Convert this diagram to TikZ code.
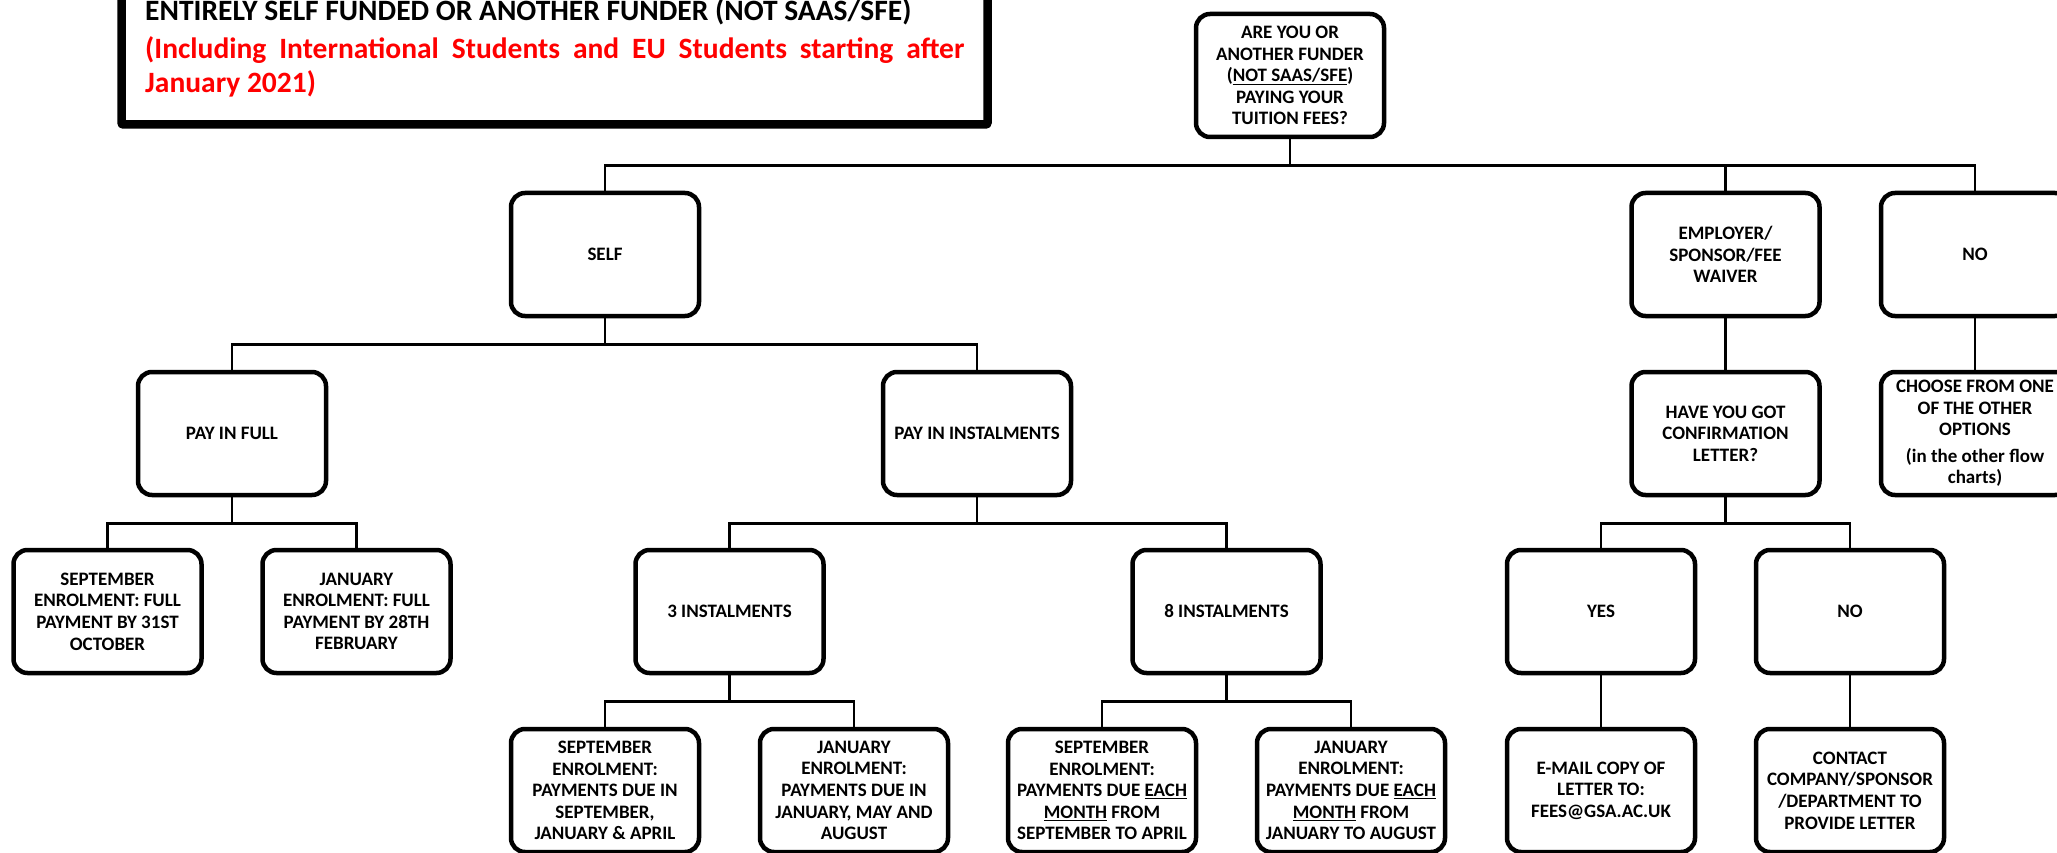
\documentclass[tikz,border=0pt]{standalone}
\usepackage{fontspec}
\setmainfont{Carlito}
\definecolor{titlered}{RGB}{255,0,0}
\begin{document}
\begin{tikzpicture}[x=1pt,y=-1pt,
  box/.style={draw, line width=4.5pt, rounded corners=14pt, minimum width=188pt,
    minimum height=123pt, inner sep=0pt, align=center, fill=white,
    font=\bfseries\fontsize{19}{21.6}\selectfont},
  conn/.style={draw, line width=2.6pt},
  titlebox/.style={draw, line width=8.5pt, rounded corners=2pt, inner sep=0pt,
    minimum width=866pt, minimum height=160pt},
  titletext/.style={anchor=base west, inner sep=0pt,
    font=\bfseries\fontsize{29.5}{34}\selectfont}
]
\useasboundingbox (0,0) rectangle (2057,853);
% title
\node[titlebox] (title) at (554.5,44.5) {};
\node[titletext] (t1) at (145,21) {ENTIRELY SELF FUNDED OR ANOTHER FUNDER (NOT SAAS/SFE)};
\node[titletext, text=titlered] (t2) at (145,59) {\makebox[819pt][s]{(Including International Students and EU Students starting after}};
\node[titletext, text=titlered] (t3) at (145,93) {January 2021)};
% level 0
\node[box] (top) at (1290,75.5) {ARE YOU OR\\ANOTHER FUNDER\\(\underline{NOT SAAS/SFE})\\PAYING YOUR\\TUITION FEES?};
% level 1
\node[box] (self) at (605,254.5) {SELF};
\node[box] (emp) at (1725.5,254.5) {EMPLOYER/\\SPONSOR/FEE\\WAIVER};
\node[box] (noa) at (1975,254.5) {NO};
% level 2
\node[box] (full) at (232,433.5) {PAY IN FULL};
\node[box] (inst) at (977,433.5) {PAY IN INSTALMENTS};
\node[box] (conf) at (1725.5,433.5) {HAVE YOU GOT\\CONFIRMATION\\LETTER?};
\node[box] (choose) at (1975,433.5) {CHOOSE FROM ONE\\OF THE OTHER\\OPTIONS\\[5pt](in the other flow\\charts)};
% level 3
\node[box] (septfull) at (107.5,611.5) {SEPTEMBER\\ENROLMENT: FULL\\PAYMENT BY 31ST\\OCTOBER};
\node[box] (janfull) at (356.5,611.5) {JANUARY\\ENROLMENT: FULL\\PAYMENT BY 28TH\\FEBRUARY};
\node[box] (three) at (729.5,611.5) {3 INSTALMENTS};
\node[box] (eight) at (1226.5,611.5) {8 INSTALMENTS};
\node[box] (yes) at (1601,611.5) {YES};
\node[box] (nob) at (1850,611.5) {NO};
% level 4
\node[box] (septthree) at (605,790.5) {SEPTEMBER\\ENROLMENT:\\PAYMENTS DUE IN\\SEPTEMBER,\\JANUARY \& APRIL};
\node[box] (janthree) at (854,790.5) {JANUARY\\ENROLMENT:\\PAYMENTS DUE IN\\JANUARY, MAY AND\\AUGUST};
\node[box] (sepeight) at (1102,790.5) {SEPTEMBER\\ENROLMENT:\\PAYMENTS DUE \underline{EACH}\\\underline{MONTH} FROM\\SEPTEMBER TO APRIL};
\node[box] (janeight) at (1351,790.5) {JANUARY\\ENROLMENT:\\PAYMENTS DUE \underline{EACH}\\\underline{MONTH} FROM\\JANUARY TO AUGUST};
\node[box] (email) at (1601,790.5) {E-MAIL COPY OF\\LETTER TO:\\FEES@GSA.AC.UK};
\node[box] (contact) at (1850,790.5) {CONTACT\\COMPANY/SPONSOR\\/DEPARTMENT TO\\PROVIDE LETTER};
% connectors
\draw[conn] (top.south) -- ++(0,26) coordinate (b0);
\draw[conn] (self.north) |- (b0) -| (noa.north);
\draw[conn] (emp.north) -- (emp.north |- b0);
\draw[conn] (self.south) -- ++(0,26) coordinate (b1);
\draw[conn] (full.north) |- (b1) -| (inst.north);
\draw[conn] (emp.south) -- (conf.north);
\draw[conn] (noa.south) -- (choose.north);
\draw[conn] (full.south) -- ++(0,26) coordinate (b2);
\draw[conn] (septfull.north) |- (b2) -| (janfull.north);
\draw[conn] (inst.south) -- ++(0,26) coordinate (b3);
\draw[conn] (three.north) |- (b3) -| (eight.north);
\draw[conn] (conf.south) -- ++(0,26) coordinate (b4);
\draw[conn] (yes.north) |- (b4) -| (nob.north);
\draw[conn] (three.south) -- ++(0,26) coordinate (b5);
\draw[conn] (septthree.north) |- (b5) -| (janthree.north);
\draw[conn] (eight.south) -- ++(0,26) coordinate (b6);
\draw[conn] (sepeight.north) |- (b6) -| (janeight.north);
\draw[conn] (yes.south) -- (email.north);
\draw[conn] (nob.south) -- (contact.north);
\end{tikzpicture}
\end{document}
